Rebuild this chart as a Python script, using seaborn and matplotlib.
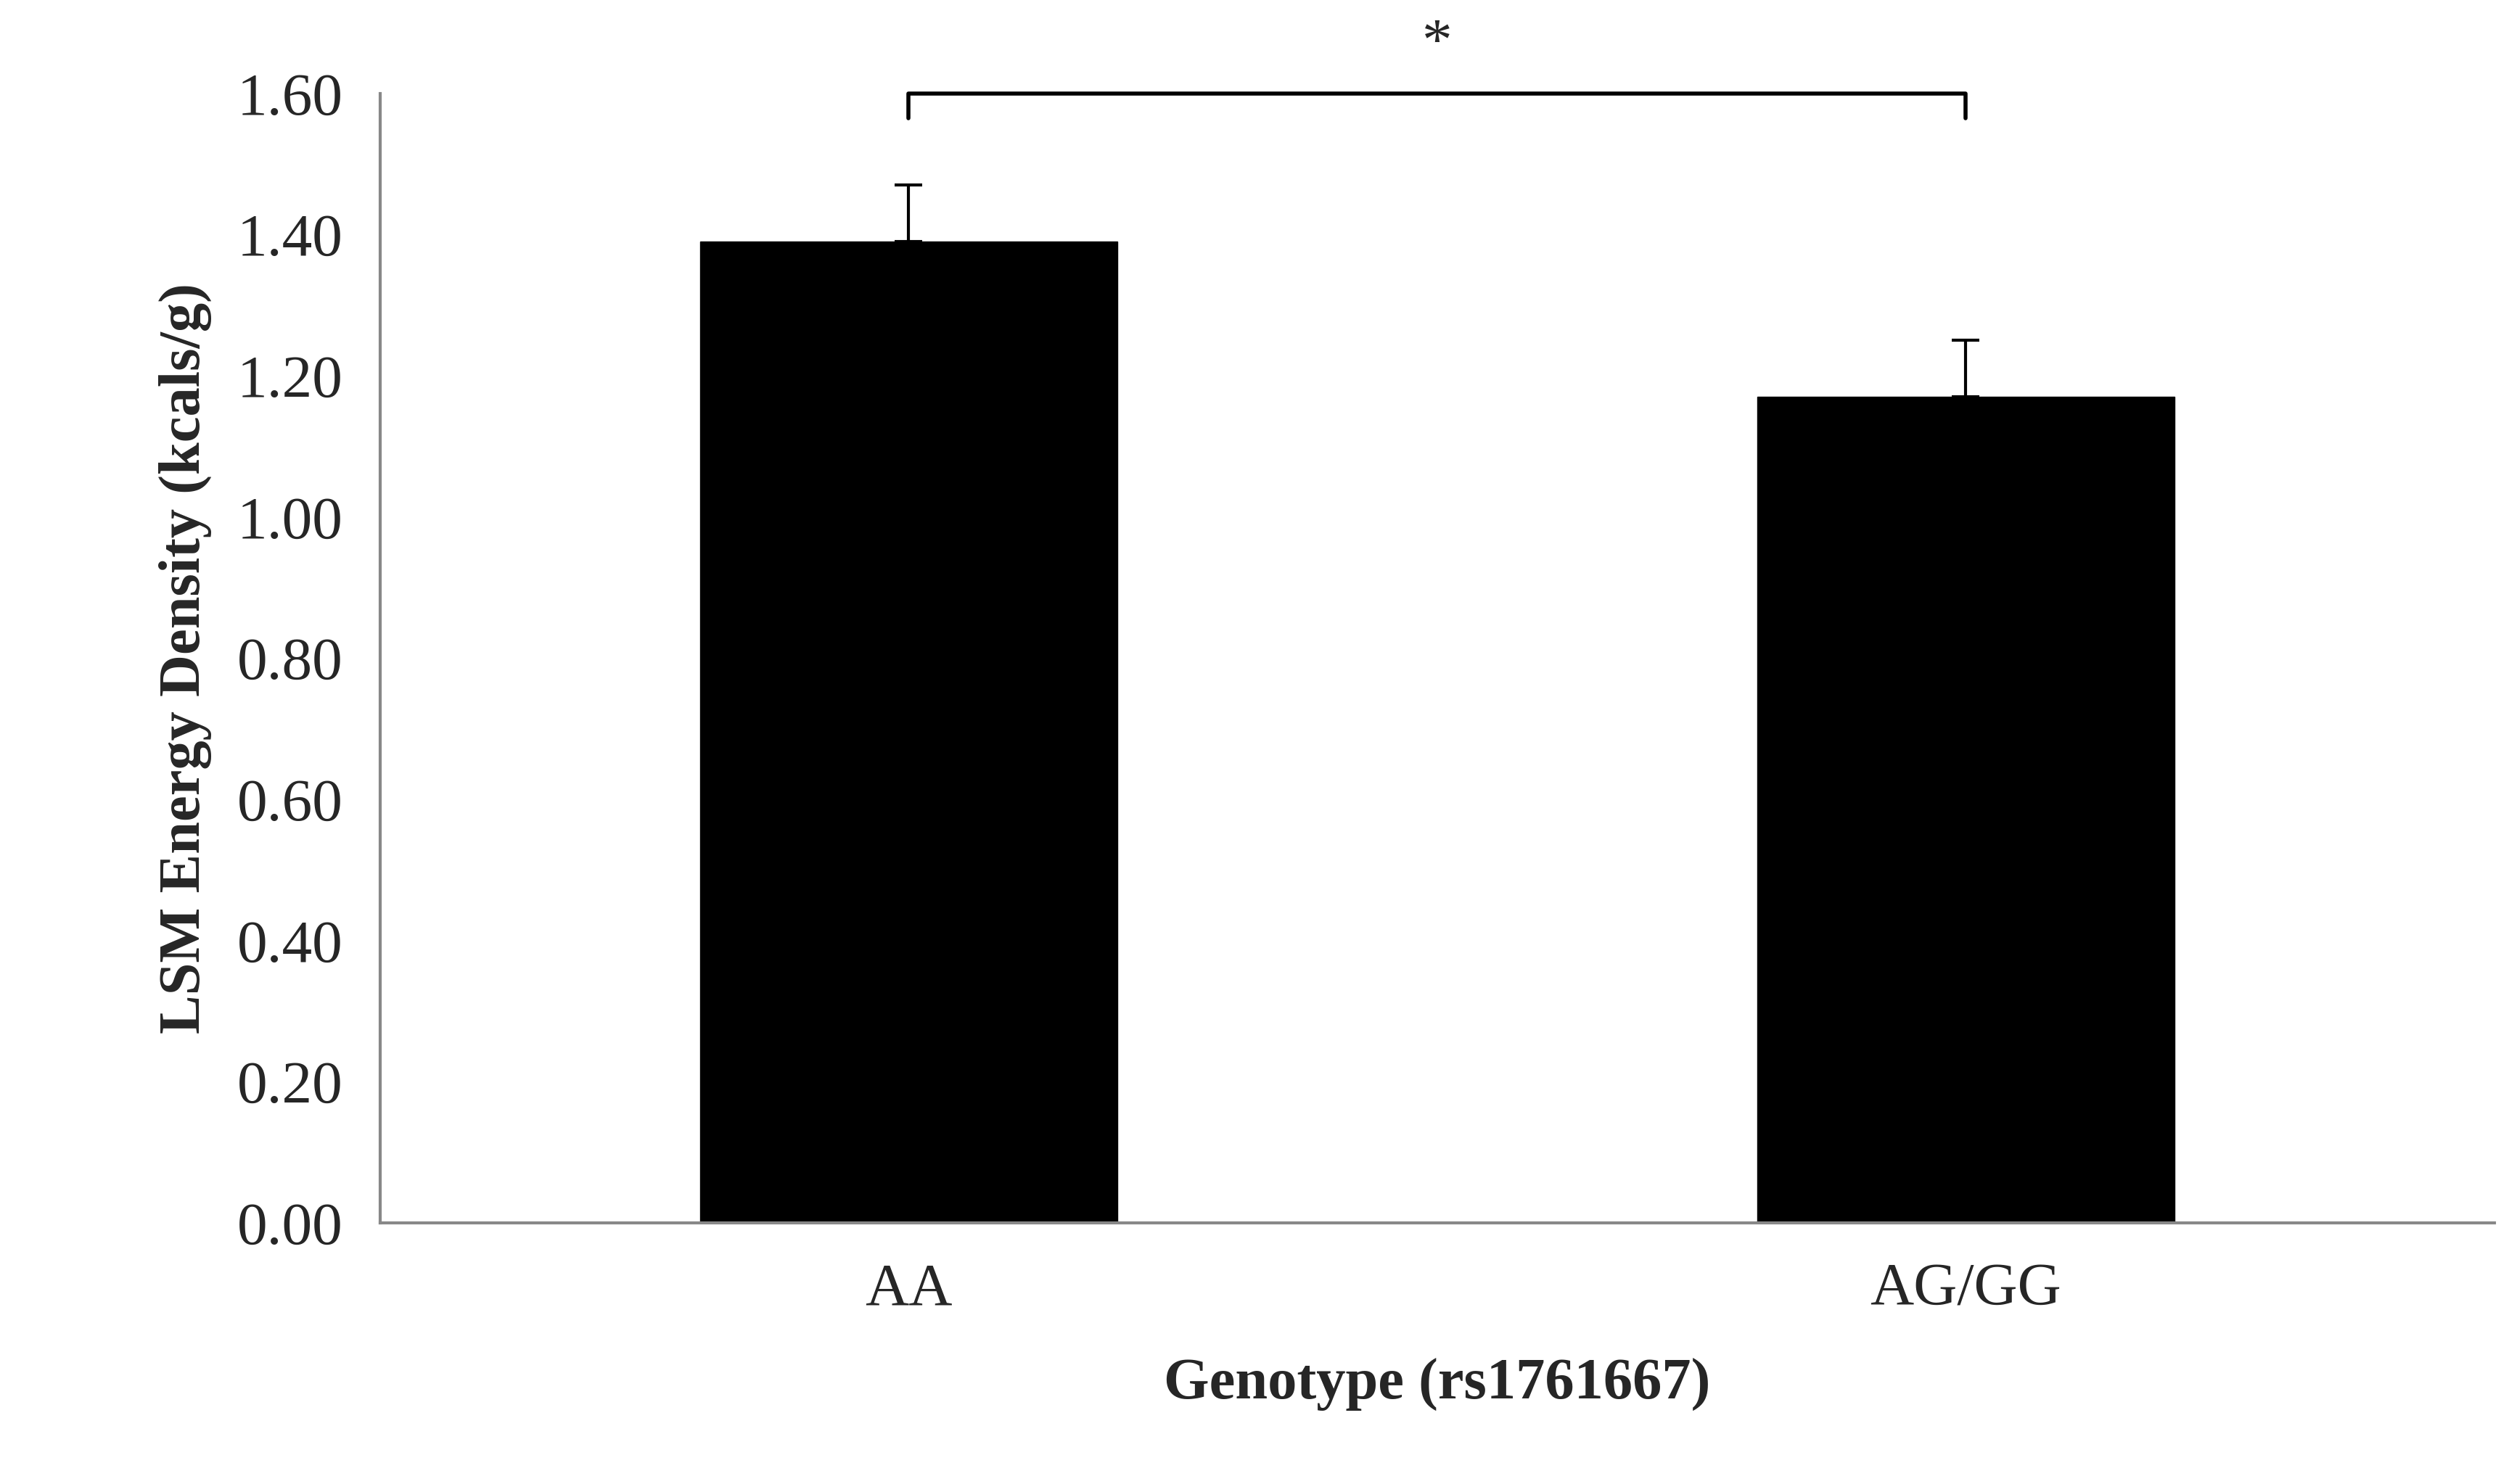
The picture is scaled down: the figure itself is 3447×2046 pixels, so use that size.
import matplotlib
matplotlib.use("Agg")
import matplotlib.pyplot as plt
import seaborn as sns
import pandas as pd

genotypes = ["AA", "AG/GG"]
means = [1.39, 1.17]
errors = [0.08, 0.08]

sns.set_style("white")
plt.rcParams['font.family'] = ['Liberation Serif', 'DejaVu Serif']

df = pd.DataFrame({"genotype": genotypes, "mean": means})
fig = plt.figure(figsize=(34.48, 20.46), dpi=100)
ax = fig.add_axes([0.152, 0.176, 0.845, 0.761])
sns.barplot(data=df, x="genotype", y="mean", color="black", width=0.395, ax=ax, errorbar=None)
for b in ax.patches:
    b.set_facecolor("black"); b.set_edgecolor("black")
ax.errorbar(range(len(means)), means, yerr=[[0] * len(errors), errors], fmt="none",
            ecolor="black", elinewidth=3, capsize=14, capthick=3)

ax.set_xlim(-0.5, 1.5)
ax.set_ylim(0, 1.6)
ax.set_yticks([i * 0.2 for i in range(9)])
ax.set_yticklabels([f"{i * 0.2:.2f}" for i in range(9)], fontsize=60)
ax.set_xticks([0, 1])
ax.set_xticklabels(genotypes, fontsize=60)
ax.tick_params(axis="x", length=0, pad=40)
ax.set_xticks([-0.5, 0.5, 1.5], minor=True)
ax.tick_params(axis="x", which="minor", length=22, width=3, color="#888888", direction="out")
ax.tick_params(axis="y", length=22, width=3, color="#888888", direction="out", pad=15)
for s in ["top", "right"]:
    ax.spines[s].set_visible(False)
for s in ["left", "bottom"]:
    ax.spines[s].set_color("#888888"); ax.spines[s].set_linewidth(3)

ax.set_xlabel("Genotype (rs1761667)", fontsize=58, fontweight="bold", labelpad=40)
ax.set_ylabel("LSM Energy Density (kcals/g)", fontsize=58, fontweight="bold", labelpad=25)

# significance bracket
ax.plot([0, 0, 1, 1], [1.565, 1.6, 1.6, 1.565], color="black", lw=4, clip_on=False)
ax.text(0.5, 1.63, "*", ha="center", va="bottom", fontsize=60)

fig.savefig("out.png", dpi=100)
